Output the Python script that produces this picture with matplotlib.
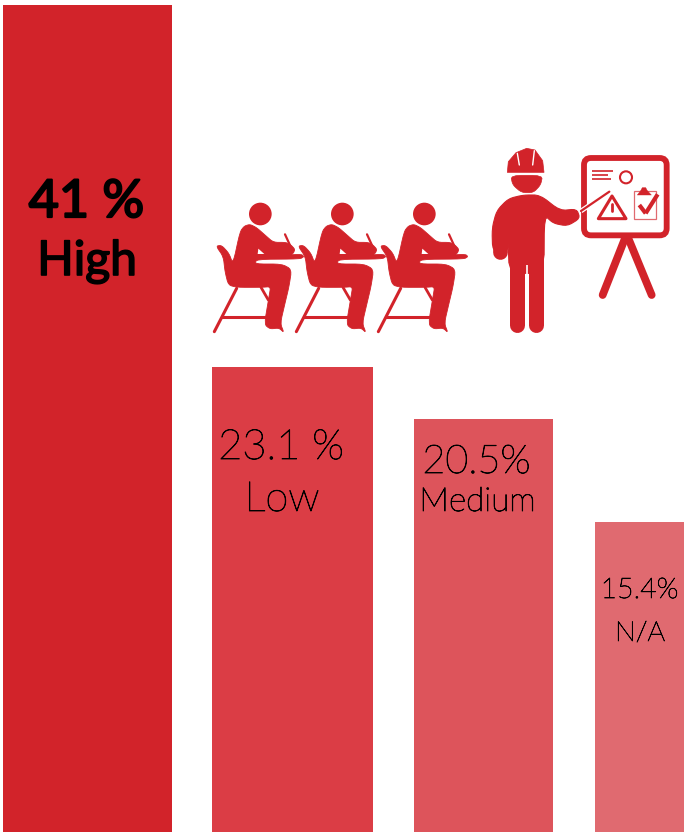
import matplotlib
matplotlib.use("Agg")
import matplotlib.pyplot as plt
import matplotlib.patheffects as pe
from matplotlib.patches import Polygon, Circle, FancyBboxPatch, Rectangle

categories = ["High", "Low", "Medium", "N/A"]
values = [41.03, 23.08, 20.51, 15.38]
value_labels = ["41 %", "23.1 %", "20.5%", "15.4%"]

# layout (pixels)
W, H = 687, 832
bar_left = [3, 212, 414, 595]
bar_right = [172, 373, 553, 684]
colors = ["#d2232a", "#db3d45", "#dd545b", "#e06a70"]
px_per_unit = 20.15
RED = "#d2232a"

fig = plt.figure(figsize=(W / 100, H / 100), dpi=100, facecolor="white")
ax = fig.add_axes([0, 0, 1, 1])
ax.set_xlim(0, W)
ax.set_ylim(0, H / px_per_unit)
ax.axis("off")
centers = [(a + b) / 2 for a, b in zip(bar_left, bar_right)]
widths = [b - a for a, b in zip(bar_left, bar_right)]
ax.bar(centers, values, width=widths, color=colors, linewidth=0)

# pixel overlay for text and pictograms
ov = fig.add_axes([0, 0, 1, 1], facecolor="none")
ov.set_xlim(0, W)
ov.set_ylim(H, 0)
ov.axis("off")

FONT = "Lato"
val_style = [(86.5, 217, 37.5, 1.6, "normal"), (281, 459, 30, 0.6, "light"), (476.5, 473, 28.5, 0.6, "light"),
             (639.5, 598, 20.5, 0.5, "light")]
cat_style = [(87, 275, 34.5, 1.2, "normal"), (282, 511, 30, 0.6, "light"), (477.5, 511, 24, 0.6, "light"),
             (640, 641, 20, 0.5, "light")]
for labels, styles in [(value_labels, val_style), (categories, cat_style)]:
    for txt, (x, y, s, stroke, w) in zip(labels, styles):
        ov.text(x, y, txt, ha="center", va="baseline", fontsize=s, family=FONT, weight=w, color="black",
                path_effects=[pe.withStroke(linewidth=stroke, foreground="black")])


def tr(pts, ox, oy):
    return [(ox + x / 3, oy + y / 3) for x, y in pts]


def smooth(pts, n=2):
    for _ in range(n):
        out = []
        for i, (x0, y0) in enumerate(pts):
            x1, y1 = pts[(i + 1) % len(pts)]
            out.append((0.8 * x0 + 0.2 * x1, 0.8 * y0 + 0.2 * y1))
            out.append((0.2 * x0 + 0.8 * x1, 0.2 * y0 + 0.8 * y1))
        pts = out
    return pts


def poly(pts, ox, oy, fc=RED, ec=None, lw=0.0, round_it=False):
    if round_it:
        pts = smooth(pts)
    ov.add_patch(Polygon(tr(pts, ox, oy), closed=True, facecolor=fc, edgecolor=ec if ec else fc,
                         linewidth=lw, joinstyle="round"))


def line(p, q, ox, oy, lw, color=RED, cap="round"):
    (a, b), (c, d) = tr([p, q], ox, oy)
    ov.plot([a, c], [b, d], color=color, lw=lw, solid_capstyle=cap)


# seated students
student = [(105, 125), (118, 108), (135, 103), (155, 113), (180, 135), (205, 157), (243, 157), (258, 165), (270, 178),
           (264, 192), (240, 195), (290, 193), (297, 200), (285, 207), (155, 208), (150, 222), (230, 222),
           (260, 238), (252, 290), (240, 340), (226, 400), (237, 428), (222, 414), (195, 417), (178, 403),
           (192, 320), (197, 290), (170, 292), (95, 292), (70, 285), (60, 245), (55, 200), (33, 168),
           (50, 166), (72, 190), (84, 222)]
for dx in [0, 246, 492]:
    ox, oy = 205 + dx / 3, 190
    ov.add_patch(Circle((ox + 166 / 3, oy + 72 / 3), 34 / 3, facecolor=RED, edgecolor="none"))
    poly(student, ox, oy, lw=0.6, round_it=True)
    poly([(160, 176), (178, 192), (158, 192)], ox, oy, fc="white", lw=0)
    line((240, 133), (256, 168), ox, oy, 1.6)
    line((95, 295), (28, 425), ox, oy, 2.2)
    line((50, 380), (182, 380), ox, oy, 2.2)
    line((168, 292), (190, 330), ox, oy, 2.0)

# worker with board
ox, oy = 480, 140
worker = [(130, 165), (180, 165), (240, 212), (290, 207), (300, 235), (262, 258), (220, 250), (193, 225),
          (192, 400), (88, 400), (84, 300), (82, 335), (38, 335), (36, 265), (50, 212), (85, 176)]
poly(worker, ox, oy, lw=0.8, round_it=True)
line((112, 340), (112, 556), ox, oy, 10.8)
line((169, 340), (169, 556), ox, oy, 10.8)
line((60, 280), (60, 335), ox, oy, 10.6)
line((140, 375), (140, 575), ox, oy, 1.2, color="white", cap="butt")
poly([(92, 106), (188, 106), (182, 135), (160, 158), (125, 158), (98, 135)], ox, oy, lw=0.5, round_it=True)
poly([(82, 97), (85, 65), (108, 38), (140, 25), (165, 30), (188, 62), (192, 97)], ox, oy, lw=0.5)
line((112, 40), (118, 75), ox, oy, 1.0, color="white")
line((163, 32), (158, 75), ox, oy, 1.0, color="white")
ov.add_patch(FancyBboxPatch((ox + 312 / 3, oy + 54 / 3), 248 / 3, 232 / 3, boxstyle="round,pad=0,rounding_size=7",
                            facecolor="white", edgecolor=RED, linewidth=4.2))
line((303, 213), (388, 155), ox, oy, 3.4, color="white", cap="butt")
line((303, 213), (388, 155), ox, oy, 1.6)
line((435, 295), (368, 465), ox, oy, 5.6)
line((445, 295), (515, 465), ox, oy, 5.6)
poly([(355, 236), (438, 236), (396, 168)], ox, oy, fc="white", ec=RED, lw=2.2)
line((397, 192), (397, 212), ox, oy, 2.0)
ov.add_patch(Circle((ox + 438 / 3, oy + 112 / 3), 18 / 3, facecolor="white", edgecolor=RED, linewidth=1.5))
for y, x2 in [(93, 398), (105, 385), (117, 392)]:
    line((336, y), (x2, y), ox, oy, 1.2, cap="butt")
ov.add_patch(Rectangle((ox + 462 / 3, oy + 153 / 3), 65 / 3, 85 / 3, facecolor="white", edgecolor="#e06a70", linewidth=0.9))
poly([(472, 165), (482, 152), (487, 143), (497, 143), (502, 152), (514, 165)], ox, oy, lw=0.3)
line((478, 195), (497, 220), ox, oy, 3.0, cap="butt")
line((497, 220), (533, 163), ox, oy, 3.0, cap="butt")

fig.savefig("out.png", dpi=100, facecolor="white")
